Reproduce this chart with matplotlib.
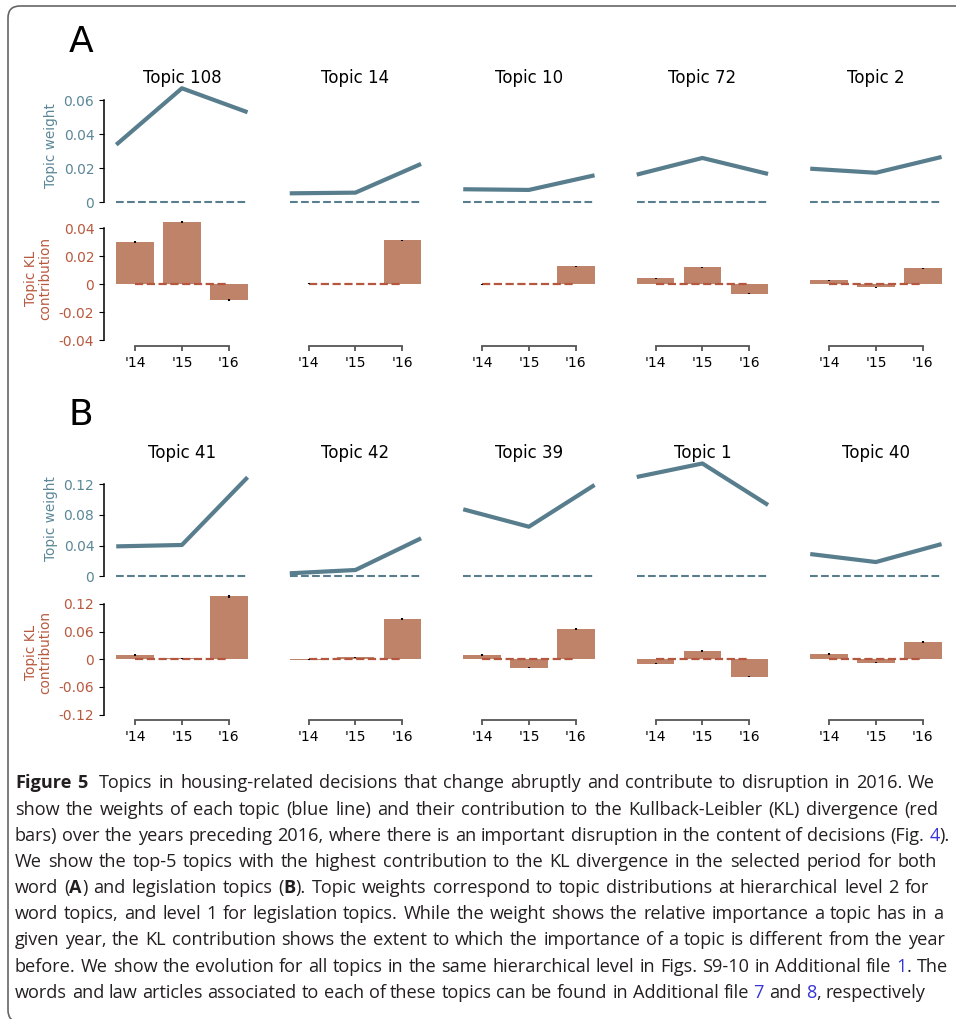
import matplotlib
matplotlib.use("Agg")
import matplotlib.pyplot as plt
from matplotlib.patches import FancyBboxPatch

W, H = 956, 1019
fig = plt.figure(figsize=(W / 100, H / 100), dpi=100)

# ---- data ----
years = ["'14", "'15", "'16"]

topics_a = ["Topic 108", "Topic 14", "Topic 10", "Topic 72", "Topic 2"]
weight_a = [[0.0337, 0.0669, 0.0528],
            [0.0051, 0.0055, 0.0224],
            [0.0075, 0.0071, 0.0157],
            [0.0161, 0.0259, 0.0165],
            [0.0196, 0.0172, 0.0265]]
kl_a = [[0.0298, 0.0441, -0.0114],
        [0.0003, 0.0000, 0.0312],
        [-0.0002, 0.0000, 0.0126],
        [0.0041, 0.0119, -0.0069],
        [0.0026, -0.0024, 0.0112]]
kl_err_a = [[0.0007, 0.0007, 0.0004],
            [0.0002, 0.0002, 0.0005],
            [0.0002, 0.0002, 0.0004],
            [0.0003, 0.0004, 0.0003],
            [0.0003, 0.0003, 0.0004]]

topics_b = ["Topic 41", "Topic 42", "Topic 39", "Topic 1", "Topic 40"]
weight_b = [[0.0390, 0.0408, 0.1290],
            [0.0039, 0.0082, 0.0495],
            [0.0873, 0.0646, 0.1190],
            [0.1294, 0.1470, 0.0929],
            [0.0290, 0.0186, 0.0420]]
kl_b = [[0.0093, 0.0020, 0.1370],
        [-0.0005, 0.0043, 0.0874],
        [0.0093, -0.0180, 0.0657],
        [-0.0095, 0.0180, -0.0377],
        [0.0115, -0.0074, 0.0375]]
kl_err_b = [[0.0015, 0.0008, 0.0035],
            [0.0005, 0.0010, 0.0030],
            [0.0012, 0.0010, 0.0020],
            [0.0010, 0.0015, 0.0010],
            [0.0012, 0.0008, 0.0015]]

# ---- style ----
LINE_C = "#587d8d"
BLUE_TXT = "#5b8797"
BAR_C = "#bf836a"
RED_DASH = "#b5573f"
RED_TXT = "#b85a40"
BAR_W = 0.8
TICK_FS = 10


def px_rect(left, top, width, height):
    return [left / W, 1 - (top + height) / H, width / W, height / H]


def fmt(v):
    return "0" if abs(v) < 1e-12 else f"{v:g}"


panels = [
    dict(label="A", label_y=42, title_y=78, topics=topics_a, weight=weight_a,
         kl=kl_a, err=kl_err_a,
         w_zero=202, w_scale=1700, w_lim=(-0.004, 0.07), w_ticks=[0, 0.02, 0.04, 0.06],
         k_zero=284, k_scale=1400, k_lim=(-0.0443, 0.0443),
         k_ticks=[-0.04, -0.02, 0, 0.02, 0.04], w_lab_y=146, k_lab_y=278),
    dict(label="B", label_y=415, title_y=453, topics=topics_b, weight=weight_b,
         kl=kl_b, err=kl_err_b,
         w_zero=576.3, w_scale=767.5, w_lim=(-0.008, 0.15), w_ticks=[0, 0.04, 0.08, 0.12],
         k_zero=659.3, k_scale=461, k_lim=(-0.1315, 0.14),
         k_ticks=[-0.12, -0.06, 0, 0.06, 0.12], w_lab_y=519, k_lab_y=652),
]

col0, col_step, unit = 135, 173.5, 46.9
xlim = (-0.66, 2.66)
xs = [0, 1, 2]
line_x = [xs[0] - BAR_W / 2, xs[1], xs[2] + BAR_W / 2]

for p in panels:
    fig.text(81 / W, 1 - p["label_y"] / H, p["label"], fontsize=26,
             ha="center", va="center")
    for c, topic in enumerate(p["topics"]):
        left = col0 + c * col_step + xlim[0] * unit
        width = (xlim[1] - xlim[0]) * unit

        # topic weight (line)
        wl = p["w_lim"]
        ax1 = fig.add_axes(px_rect(left, p["w_zero"] - wl[1] * p["w_scale"],
                                   width, (wl[1] - wl[0]) * p["w_scale"]))
        ax1.plot(line_x, p["weight"][c], color=LINE_C, lw=3, clip_on=False,
                 solid_capstyle="butt")
        ax1.plot([line_x[0], line_x[-1]], [0, 0], color=LINE_C, lw=1.5, ls="--")
        ax1.set_xlim(xlim)
        ax1.set_ylim(wl)
        for s in ["top", "right", "bottom"]:
            ax1.spines[s].set_visible(False)
        ax1.set_xticks([])
        if c == 0:
            ax1.set_yticks(p["w_ticks"])
            ax1.set_yticklabels([fmt(v) for v in p["w_ticks"]], color=BLUE_TXT,
                                fontsize=TICK_FS)
            ax1.spines["left"].set_bounds(p["w_ticks"][0], p["w_ticks"][-1])
            ax1.spines["left"].set_linewidth(1.1)
        else:
            ax1.spines["left"].set_visible(False)
            ax1.set_yticks([])
        ax1.patch.set_visible(False)

        fig.text((col0 + c * col_step + unit) / W, 1 - p["title_y"] / H, topic,
                 fontsize=12, ha="center", va="center")

        # KL contribution (bars)
        kl = p["k_lim"]
        ax2 = fig.add_axes(px_rect(left, p["k_zero"] - kl[1] * p["k_scale"],
                                   width, (kl[1] - kl[0]) * p["k_scale"]))
        ax2.bar(xs, p["kl"][c], width=BAR_W, color=BAR_C, clip_on=False, zorder=2)
        ax2.errorbar(xs, p["kl"][c], yerr=p["err"][c], fmt="none", ecolor="k",
                     elinewidth=1.5, capsize=0, zorder=4, clip_on=False)
        ax2.plot([xs[0], xs[-1]], [0, 0], color=RED_DASH, lw=1.6, ls="--", zorder=3)
        ax2.set_xlim(xlim)
        ax2.set_ylim(kl)
        for s in ["top", "right"]:
            ax2.spines[s].set_visible(False)
        ax2.set_xticks(xs)
        ax2.set_xticklabels(years, fontsize=TICK_FS)
        ax2.spines["bottom"].set_bounds(xs[0], xs[-1])
        ax2.spines["bottom"].set_color("#555555")
        ax2.spines["bottom"].set_linewidth(1.3)
        ax2.tick_params(axis="x", color="#555555", width=1.3)
        if c == 0:
            ax2.set_yticks(p["k_ticks"])
            ax2.set_yticklabels([fmt(v) for v in p["k_ticks"]], color=RED_TXT,
                                fontsize=TICK_FS)
            ax2.spines["left"].set_bounds(p["k_ticks"][0], p["k_ticks"][-1])
            ax2.spines["left"].set_linewidth(1.1)
        else:
            ax2.spines["left"].set_visible(False)
            ax2.set_yticks([])
        ax2.patch.set_visible(False)

    fig.text(51 / W, 1 - p["w_lab_y"] / H, "Topic weight", rotation=90,
             color=BLUE_TXT, fontsize=9.8, ha="center", va="center")
    fig.text(38 / W, 1 - p["k_lab_y"] / H, "Topic KL\ncontribution", rotation=90,
             color=RED_TXT, fontsize=9.8, ha="center", va="center",
             multialignment="center", linespacing=1.0)

# ---- frame ----
frame = FancyBboxPatch((0.08, -0.03), 9.95, 10.16, transform=fig.dpi_scale_trans,
                       boxstyle="round,pad=0,rounding_size=0.12", fill=False,
                       edgecolor="#666666", lw=1.2)
fig.add_artist(frame)

# ---- caption ----
LINK = "#3535d8"
TXT = "#231f20"
caption = [
    [("Figure 5", "bold", TXT),
     ("  Topics in housing-related decisions that change abruptly and contribute to disruption in 2016. We", "normal", TXT)],
    [("show the weights of each topic (blue line) and their contribution to the Kullback-Leibler (KL) divergence (red", "normal", TXT)],
    [("bars) over the years preceding 2016, where there is an important disruption in the content of decisions (Fig. ", "normal", TXT),
     ("4", "normal", LINK), (").", "normal", TXT)],
    [("We show the top-5 topics with the highest contribution to the KL divergence in the selected period for both", "normal", TXT)],
    [("word (", "normal", TXT), ("A", "bold", TXT), (") and legislation topics (", "normal", TXT),
     ("B", "bold", TXT), ("). Topic weights correspond to topic distributions at hierarchical level 2 for", "normal", TXT)],
    [("word topics, and level 1 for legislation topics. While the weight shows the relative importance a topic has in a", "normal", TXT)],
    [("given year, the KL contribution shows the extent to which the importance of a topic is different from the year", "normal", TXT)],
    [("before. We show the evolution for all topics in the same hierarchical level in Figs. S9-10 in Additional file ", "normal", TXT),
     ("1", "normal", LINK), (". The", "normal", TXT)],
    [("words and law articles associated to each of these topics can be found in Additional file ", "normal", TXT),
     ("7", "normal", LINK), (" and ", "normal", TXT), ("8", "normal", LINK), (", respectively", "normal", TXT)],
]
right_edges = [935, 938, 950, 937, 929, 943, 945, 948, None]
cap_left = 15
base0, line_step = 788.5, 26.15
CAP_FONT = ["Open Sans", "DejaVu Sans"]

renderer = fig.canvas.get_renderer()


def words_of(line):
    words = [[]]
    for text, weight, color in line:
        parts = text.split(" ")
        for i, part in enumerate(parts):
            if i > 0:
                words.append([])
            if part:
                words[-1].append((part, weight, color))
    return words


def width_of(text, size, weight):
    t = fig.text(0, 0, text, fontsize=size, fontweight=weight, family=CAP_FONT)
    w = t.get_window_extent(renderer).width
    t.remove()
    return w


size = 12.0
space = width_of("a a", size, "normal") - width_of("aa", size, "normal")
ratio = 10.0
for line, right in zip(caption, right_edges):
    if right is None:
        continue
    ws = words_of(line)
    natural = sum(width_of(t, size, wt) for w in ws for t, wt, _ in w) + space * (len(ws) - 1)
    ratio = min(ratio, (right - cap_left) / natural)
size = min(13.2, size * ratio * 0.99)
space = width_of("a a", size, "normal") - width_of("aa", size, "normal")

for i, (line, right) in enumerate(zip(caption, right_edges)):
    ws = words_of(line)
    widths = [[width_of(t, size, wt) for t, wt, _ in w] for w in ws]
    total = sum(sum(w) for w in widths)
    if right is None:
        gap = space
    else:
        gap = (right - cap_left - total) / (len(ws) - 1)
    x = cap_left
    y = 1 - (base0 + i * line_step) / H
    for w, wd in zip(ws, widths):
        for (t, wt, col), pw in zip(w, wd):
            fig.text(x / W, y, t, fontsize=size, fontweight=wt, color=col,
                     family=CAP_FONT, va="baseline", ha="left")
            x += pw
        x += gap

fig.savefig("out.png", dpi=100)
